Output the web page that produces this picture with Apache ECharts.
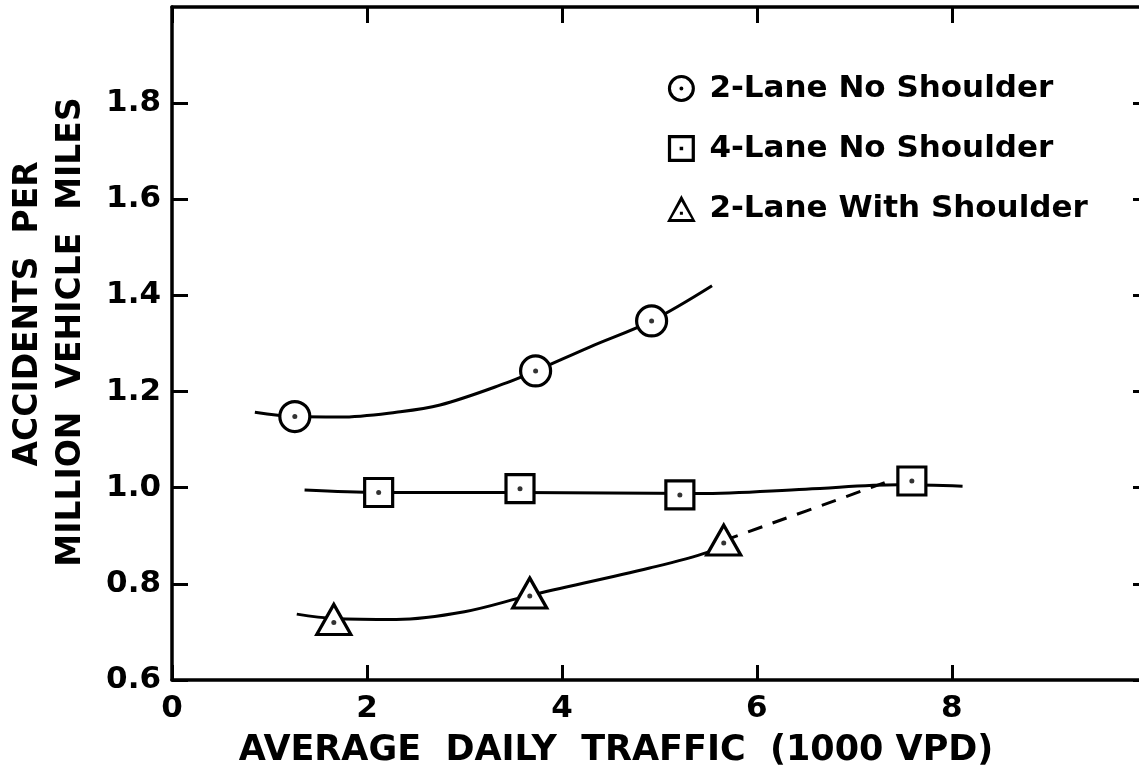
<!DOCTYPE html>
<html>
<head>
<meta charset="utf-8">
<title>Accident rate vs ADT</title>
<script src="https://cdn.jsdelivr.net/npm/echarts@6/dist/echarts.min.js"></script>
<style>
  html, body { margin: 0; padding: 0; background: #fff; }
  #chart { width: 1139px; height: 781px; }
</style>
</head>
<body>
<div id="chart"></div>
<script>
'use strict';

// legend names
var seriesNames = ['2-Lane No Shoulder', '4-Lane No Shoulder', '2-Lane With Shoulder'];

// axis ticks
var xTicks = [0, 2, 4, 6, 8];
var yTicks = [0.6, 0.8, 1.0, 1.2, 1.4, 1.6, 1.8];

// observed points [ADT (1000 vpd), accidents per MVM]
var twoLaneNoShoulder = [[1.26, 1.148], [3.73, 1.243], [4.92, 1.347]];
var fourLaneNoShoulder = [[2.12, 0.99], [3.57, 0.998], [5.21, 0.985], [7.59, 1.014]];
var twoLaneWithShoulder = [[1.66, 0.726], [3.67, 0.781], [5.66, 0.891]];

// hand fitted curves
var curveTwoLaneNo = [[0.85, 1.157], [1.26, 1.148], [1.72, 1.147], [2.3, 1.157], [2.75, 1.172],
  [3.43, 1.218], [3.73, 1.243], [4.29, 1.293], [4.92, 1.347], [5.54, 1.42]];
var curveFourLaneNo = [[1.36, 0.995], [2.12, 0.99], [3.57, 0.99], [5.4, 0.988], [6.5, 0.997],
  [7.45, 1.006], [8.11, 1.003]];
var curveTwoLaneWith = [[1.28, 0.737], [1.66, 0.728], [2.3, 0.726], [3.0, 0.742], [3.67, 0.776],
  [4.9, 0.833], [5.5, 0.866], [5.66, 0.885]];
var extrapolated = [[5.66, 0.89], [7.36, 1.014]];

var FONT = '"DejaVu Sans", sans-serif';

// legend icons: outline with a dot in the middle
var circleIcon = 'path://M50,2 A48,48 0 1,1 50,98 A48,48 0 1,1 50,2 Z ' +
  'M50,13 A37,37 0 1,0 50,87 A37,37 0 1,0 50,13 Z ' +
  'M50,43 A7,7 0 1,1 50,57 A7,7 0 1,1 50,43 Z';
var squareIcon = 'path://M4,4 L96,4 L96,96 L4,96 Z M15,15 L15,85 L85,85 L85,15 Z ' +
  'M44,44 L56,44 L56,56 L44,56 Z';
var triangleIcon = 'path://M50,2 L98,92 L2,92 Z M50,24 L16,82 L84,82 Z ' +
  'M45,58 L55,58 L55,68 L45,68 Z';

function curve(data, dashed) {
  return {
    type: 'line',
    data: data,
    smooth: 0.35,
    showSymbol: false,
    silent: true,
    lineStyle: { color: '#000', width: 3, type: dashed ? [15, 11] : 'solid' },
    z: 2
  };
}

function markers(name, data, symbol, size) {
  return {
    name: name,
    type: 'scatter',
    data: data,
    symbol: symbol,
    symbolSize: size,
    itemStyle: { color: '#fff', borderColor: '#000', borderWidth: 3.2, opacity: 1 },
    z: 3
  };
}

function dots(data, offset) {
  return {
    type: 'scatter',
    data: data,
    symbol: 'circle',
    symbolSize: 5,
    symbolOffset: [0, offset],
    silent: true,
    itemStyle: { color: '#000' },
    z: 4
  };
}

var myChart = echarts.init(document.getElementById('chart'));

myChart.setOption({
  backgroundColor: '#fff',
  animation: false,
  grid: { left: 172, top: 7, right: 0, bottom: 101 },
  legend: {
    orient: 'vertical',
    left: 662,
    top: 68,
    itemWidth: 46,
    itemHeight: 27,
    itemGap: 29,
    selectedMode: false,
    textStyle: { fontFamily: FONT, fontWeight: 'bold', fontSize: 31, color: '#000' },
    data: [
      { name: seriesNames[0], icon: circleIcon, itemStyle: { color: '#000', borderWidth: 0 } },
      { name: seriesNames[1], icon: squareIcon, itemStyle: { color: '#000', borderWidth: 0 } },
      { name: seriesNames[2], icon: triangleIcon, itemStyle: { color: '#000', borderWidth: 0 } }
    ]
  },
  xAxis: [{
    type: 'value',
    min: 0,
    max: 9.92,
    interval: 2,
    splitLine: { show: false },
    axisLine: { onZero: false, lineStyle: { color: '#000', width: 3.5 } },
    axisTick: { inside: true, length: 15, customValues: xTicks, lineStyle: { color: '#000', width: 3 } },
    axisLabel: {
      margin: 13, color: '#000', customValues: xTicks,
      fontFamily: FONT, fontWeight: 'bold', fontSize: 31
    }
  }, {
    type: 'value',
    position: 'top',
    min: 0,
    max: 9.92,
    interval: 2,
    splitLine: { show: false },
    axisLine: { onZero: false, lineStyle: { color: '#000', width: 3.5 } },
    axisTick: { inside: true, length: 16, customValues: xTicks, lineStyle: { color: '#000', width: 3 } },
    axisLabel: { show: false }
  }],
  yAxis: [{
    type: 'value',
    min: 0.6,
    max: 2.0,
    interval: 0.2,
    splitLine: { show: false },
    axisLine: { onZero: false, lineStyle: { color: '#000', width: 3.5 } },
    axisTick: { inside: true, length: 16, customValues: yTicks, lineStyle: { color: '#000', width: 3 } },
    axisLabel: {
      margin: 11, color: '#000', customValues: yTicks,
      fontFamily: FONT, fontWeight: 'bold', fontSize: 31,
      formatter: function (v) { return v.toFixed(1); }
    }
  }, {
    type: 'value',
    position: 'right',
    min: 0.6,
    max: 2.0,
    interval: 0.2,
    splitLine: { show: false },
    axisLine: { show: false, onZero: false },
    axisTick: { inside: true, length: 6, customValues: yTicks, lineStyle: { color: '#000', width: 3 } },
    axisLabel: { show: false }
  }],
  graphic: [{
    type: 'text',
    x: 616, y: 751,
    style: {
      text: 'AVERAGE  DAILY  TRAFFIC  (1000 VPD)',
      font: 'bold 35px ' + FONT, fill: '#000', align: 'center', verticalAlign: 'middle'
    }
  }, {
    type: 'text',
    x: 28, y: 314, rotation: Math.PI / 2,
    style: {
      text: 'ACCIDENTS  PER',
      font: 'bold 33px ' + FONT, fill: '#000', align: 'center', verticalAlign: 'middle'
    }
  }, {
    type: 'text',
    x: 71, y: 332, rotation: Math.PI / 2,
    style: {
      text: 'MILLION  VEHICLE  MILES',
      font: 'bold 33px ' + FONT, fill: '#000', align: 'center', verticalAlign: 'middle'
    }
  }],
  series: [
    curve(curveTwoLaneNo),
    curve(curveFourLaneNo),
    curve(curveTwoLaneWith),
    curve(extrapolated, true),
    markers(seriesNames[0], twoLaneNoShoulder, 'circle', 30),
    markers(seriesNames[1], fourLaneNoShoulder, 'rect', 28),
    markers(seriesNames[2], twoLaneWithShoulder, 'triangle', [34, 30]),
    dots(twoLaneNoShoulder, 0),
    dots(fourLaneNoShoulder, 0),
    dots(twoLaneWithShoulder, 3)
  ]
});
</script>
</body>
</html>
